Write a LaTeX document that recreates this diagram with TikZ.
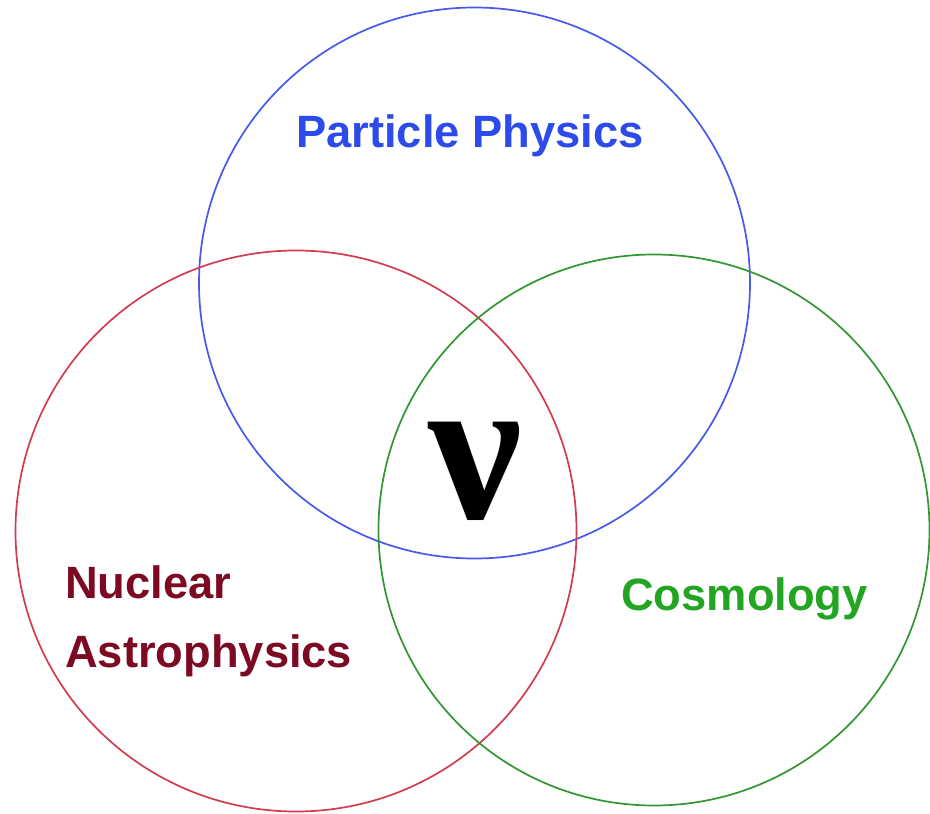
\documentclass[tikz,border=0pt]{standalone}
\usepackage{fontspec}
\setmainfont{Liberation Sans}
\newfontfamily\nufont{Liberation Serif}
\definecolor{cblue}{RGB}{70,90,235}
\definecolor{tblue}{RGB}{45,75,235}
\definecolor{cred}{RGB}{210,60,80}
\definecolor{tred}{RGB}{125,10,35}
\definecolor{cgreen}{RGB}{50,150,50}
\definecolor{tgreen}{RGB}{35,165,35}
\begin{document}
\begin{tikzpicture}[x=1pt,y=-1pt,
  ring/.style={draw, line width=1.7pt},
  lab/.style={inner sep=0pt, anchor=base west, font=\fontsize{45.3}{52}\selectfont\bfseries}]
\useasboundingbox (0,0) rectangle (930,814);
\fill[white] (0,0) rectangle (930,814);
\draw[ring, cblue] (474.5,283) circle (275.5);
\draw[ring, cred] (296,531) circle (280.5);
\draw[ring, cgreen] (654,530) circle (275.5);
\node[lab, text=tblue] (pp) at (296,147) {Particle Physics};
\node[lab, text=tred] (nu1) at (65,598) {Nuclear};
\node[lab, text=tred] (nu2) at (65,667) {Astrophysics};
\node[lab, text=tgreen] (co) at (621,610) {Cosmology};
\node[inner sep=0pt, font=\fontsize{210}{220}\selectfont\nufont\bfseries] (nu) at (475,471) {ν};
\end{tikzpicture}
\end{document}
